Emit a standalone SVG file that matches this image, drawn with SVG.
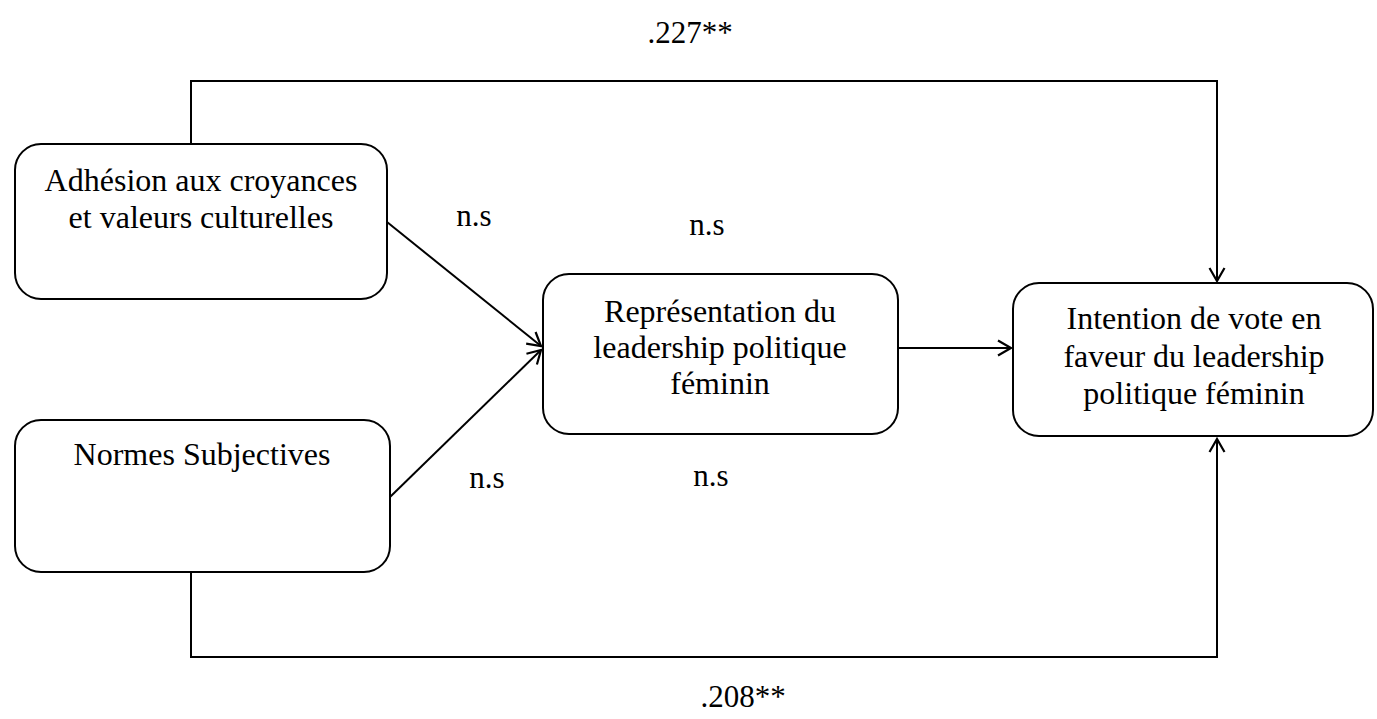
<svg xmlns="http://www.w3.org/2000/svg" width="1377" height="719" viewBox="0 0 1377 719">
<defs>
<marker id="arr" markerWidth="18" markerHeight="18" refX="15" refY="9" orient="auto" markerUnits="userSpaceOnUse">
<path d="M2,1.5 L15,9 L2,16.5" fill="none" stroke="#000" stroke-width="2.2"/>
</marker>
<style>
.box{fill:#fff;stroke:#000;stroke-width:2}
.t{font-family:"Liberation Serif","Times New Roman",serif;font-size:32px;fill:#000;text-anchor:middle}
.l{font-family:"Liberation Serif","Times New Roman",serif;font-size:31px;fill:#000;text-anchor:middle}
.c{fill:none;stroke:#000;stroke-width:2}
</style>
</defs>
<rect width="1377" height="719" fill="#fff"/>
<g id="connectors">
<path class="c" d="M191,144 V81 H1217 V281" marker-end="url(#arr)"/>
<path class="c" d="M191,572 V657 H1217 V439" marker-end="url(#arr)"/>
<line class="c" x1="387" y1="222" x2="541" y2="346" marker-end="url(#arr)"/>
<line class="c" x1="390" y1="497" x2="541" y2="350" marker-end="url(#arr)"/>
<line class="c" x1="898" y1="348" x2="1011" y2="348" marker-end="url(#arr)"/>
</g>
<g id="node-adhesion">
<rect class="box" x="15" y="144" width="372" height="155" rx="26"/>
<text class="t" x="201" y="191">Adhésion aux croyances</text>
<text class="t" x="201" y="228">et valeurs culturelles</text>
</g>
<g id="node-normes">
<rect class="box" x="15" y="420" width="375" height="152" rx="26"/>
<text class="t" x="202" y="465">Normes Subjectives</text>
</g>
<g id="node-representation">
<rect class="box" x="543" y="274" width="355" height="160" rx="26"/>
<text class="t" x="720" y="322">Représentation du</text>
<text class="t" x="720" y="358">leadership politique</text>
<text class="t" x="720" y="394">féminin</text>
</g>
<g id="node-intention">
<rect class="box" x="1013" y="283" width="360" height="153" rx="26"/>
<text class="t" x="1194" y="329">Intention de vote en</text>
<text class="t" x="1194" y="367">faveur du leadership</text>
<text class="t" x="1194" y="404">politique féminin</text>
</g>
<g id="labels">
<text class="l" x="690" y="43">.227**</text>
<text class="l" x="743" y="707">.208**</text>
<text class="l" x="474" y="226">n.s</text>
<text class="l" x="707" y="235">n.s</text>
<text class="l" x="487" y="488">n.s</text>
<text class="l" x="711" y="486">n.s</text>
</g>
</svg>
